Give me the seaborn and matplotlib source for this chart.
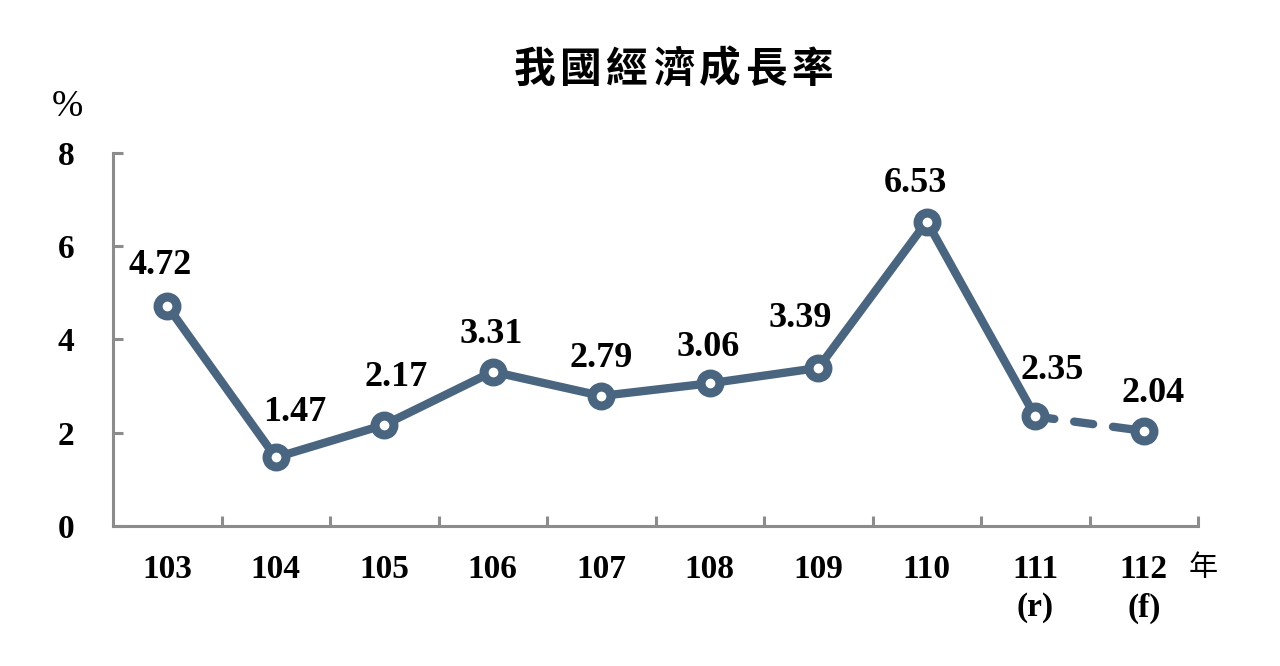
import matplotlib
matplotlib.use("Agg")
import matplotlib.pyplot as plt
import seaborn as sns
import pandas as pd
import numpy as np
from matplotlib.ticker import FixedLocator

years = ["103", "104", "105", "106", "107", "108", "109", "110", "111", "112"]
year_notes = ["", "", "", "", "", "", "", "", "(r)", "(f)"]
growth = [4.72, 1.47, 2.17, 3.31, 2.79, 3.06, 3.39, 6.53, 2.35, 2.04]
yticks = [0, 2, 4, 6, 8]
title = "我國經濟成長率"

# layout only: value-label offsets from each marker, in points (dx, dy)
label_dx = [-5, 13.5, 8.5, -1, 0, -1.5, -13, -8.5, 12, 6.5]
label_dy = [32, 35, 37, 29.5, 29.5, 29, 38.5, 30, 36, 30]

sns.set_theme(style="white")
plt.rcParams['font.family'] = ['Liberation Serif', 'Noto Sans CJK TC', 'DejaVu Sans']
plt.rcParams['text.color'] = 'black'
plt.rcParams['xtick.color'] = 'black'
plt.rcParams['ytick.color'] = 'black'

df = pd.DataFrame({"pos": np.arange(len(years)), "growth": growth})
color = "#4a6580"
grey = "#8c8c8c"

fig = plt.figure(figsize=(12.8, 6.66), dpi=100)
ax = fig.add_axes([0.0883, 0.2102, 0.936 - 0.0883, 0.7703 - 0.2102])

solid = df.iloc[:9]
dashed = df.iloc[8:]
sns.lineplot(data=solid, x="pos", y="growth", ax=ax, color=color, linewidth=6,
             solid_capstyle="round", solid_joinstyle="round")
sns.lineplot(data=dashed, x="pos", y="growth", ax=ax, color=color, linewidth=6)
ax.lines[-1].set_dashes([2.3, 2.4])
ax.lines[-1].set_dash_capstyle("round")
sns.scatterplot(data=df, x="pos", y="growth", ax=ax, s=185, facecolor="white",
                edgecolor=color, linewidth=6.5, zorder=5)

for x, v, dx, dy in zip(df["pos"], df["growth"], label_dx, label_dy):
    ax.annotate(f"{v:.2f}", xy=(x, v), xytext=(dx, dy), textcoords="offset points",
                ha="center", va="center_baseline", fontsize=26,
                fontweight="bold", color="black")

ax.set_xlim(-0.5, 9.5)
ax.set_ylim(0, 8)
ax.set_xlabel("")
ax.set_ylabel("")

ax.set_yticks(yticks)
ax.set_yticklabels([str(t) for t in yticks], fontsize=24, fontweight="bold")
ax.set_xticks(df["pos"])
ax.set_xticklabels(years, fontsize=24, fontweight="bold")
ax.tick_params(axis="x", which="major", bottom=True, length=0, pad=20)
ax.tick_params(axis="y", which="major", left=True, length=7, width=2.2,
               color=grey, direction="in", pad=28)
ax.xaxis.set_minor_locator(FixedLocator(np.arange(0.5, 9.5, 1.0).tolist() + [9.5]))
ax.tick_params(axis="x", which="minor", bottom=True, length=7, width=2.2,
               color=grey, direction="in")

for x, note in zip(df["pos"], year_notes):
    if note:
        ax.annotate(note, xy=(x, 0), xycoords=("data", "axes fraction"),
                    xytext=(0, -59), textcoords="offset points", ha="center",
                    va="center", fontsize=24, fontweight="bold", color="black")

for side in ["top", "right"]:
    ax.spines[side].set_visible(False)
for side in ["left", "bottom"]:
    ax.spines[side].set_color(grey)
    ax.spines[side].set_linewidth(2.2)

# letter-spaced title
n = len(title)
for i, ch in enumerate(title):
    fig.text((673.5 + (i - (n - 1) / 2) * 46.2) / 1280, 0.8956, ch, ha="center",
             va="center", fontsize=30, fontweight="bold", color="black",
             family=['Noto Sans CJK TC', 'DejaVu Sans'])
fig.text(0.0527, 0.8393, "%", ha="center", va="center", fontsize=27, color="black")
fig.text(0.9398, 0.1471, "年", ha="center", va="center", fontsize=21, color="black",
         family=['Noto Sans CJK TC', 'DejaVu Sans'])

fig.savefig("out.png", dpi=100, facecolor="white")
